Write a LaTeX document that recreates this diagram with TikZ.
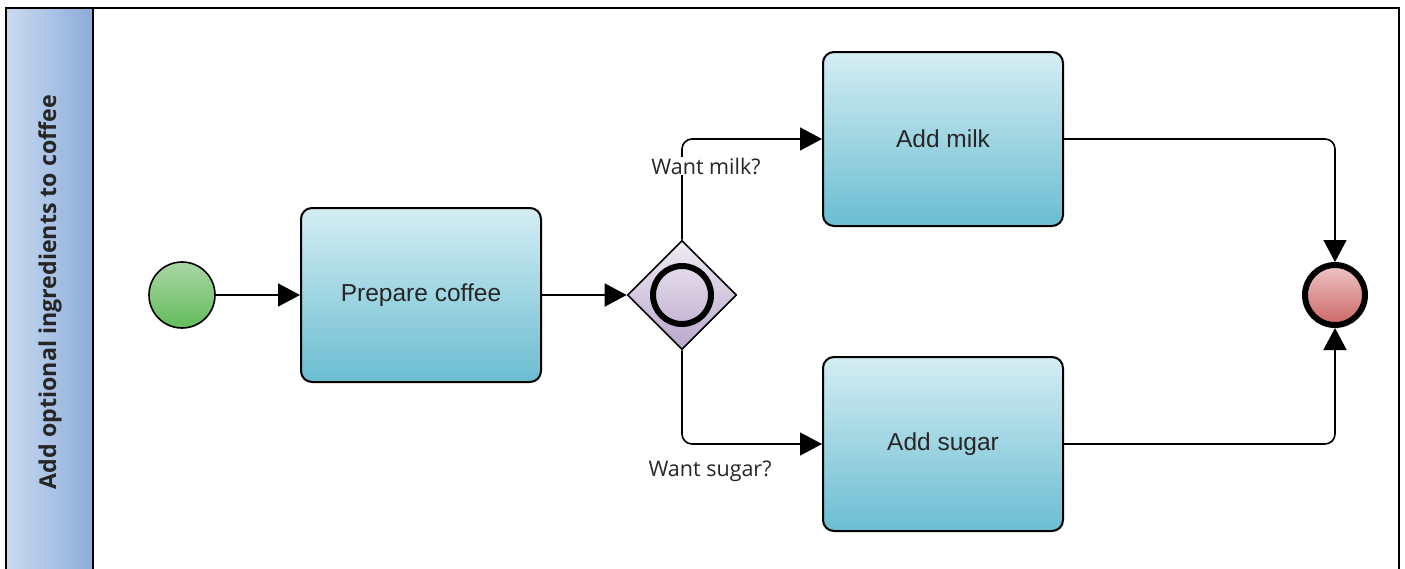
\documentclass[tikz,border=0pt]{standalone}
\usepackage{fontspec}
\setmainfont{Liberation Sans}
\newfontfamily\labelfont{Open Sans}
\usetikzlibrary{arrows.meta,shapes.geometric}

\definecolor{laneL}{HTML}{CADAF0}
\definecolor{laneR}{HTML}{8CACDA}
\definecolor{taskT}{HTML}{D4EDF3}
\definecolor{taskB}{HTML}{6ABDD1}
\definecolor{startT}{HTML}{AAD6A4}
\definecolor{startB}{HTML}{62BC5A}
\definecolor{gwT}{HTML}{F0ECF4}
\definecolor{gwB}{HTML}{B9A6CB}
\definecolor{endT}{HTML}{EEC6C6}
\definecolor{endB}{HTML}{CC6664}
\definecolor{ink}{HTML}{262626}

\tikzset{
  task/.style={draw=black, line width=2pt, rounded corners=11pt,
    top color=taskT, bottom color=taskB, minimum width=240pt,
    minimum height=174pt, inner sep=0pt, outer sep=1pt,
    font=\fontsize{24.5}{29}\selectfont, text=ink},
  startev/.style={circle, draw=black, line width=1.6pt, minimum size=66pt,
    inner sep=0pt, outer sep=0.8pt, top color=startT, bottom color=startB},
  endev/.style={circle, draw=black, line width=6pt, minimum size=60pt,
    inner sep=0pt, outer sep=3pt, top color=endT, bottom color=endB},
  gateway/.style={diamond, draw=black, line width=1.6pt, minimum width=109pt,
    minimum height=109pt, inner sep=0pt, outer sep=0.8pt,
    top color=gwT, bottom color=gwB},
  gwmark/.style={circle, draw=black, line width=6pt, minimum size=58pt,
    inner sep=0pt},
  flow/.style={line width=1.6pt, -{Triangle[length=22pt,width=23pt]},
    rounded corners=10pt},
  cond/.style={font=\labelfont\fontsize{21.5}{25}\selectfont, text=ink,
    inner sep=1pt},
}

\begin{document}
\begin{tikzpicture}[x=1pt, y=-1pt]
  \useasboundingbox (0,0) rectangle (1405,568);
  \clip (0,0) rectangle (1405,568);

  % pool frame and lane header
  \shade[left color=laneL, right color=laneR] (6,8) rectangle (93,600);
  \draw[line width=2pt] (6,8) rectangle (1399,600);
  \draw[line width=2pt] (93,8) -- (93,600);
  \node[rotate=90, font=\labelfont\bfseries\fontsize{23.2}{28}\selectfont,
    text=ink] (lane) at (50,292) {Add optional ingredients to coffee};

  % flow nodes
  \node[startev] (start) at (182,295) {};
  \node[task] (prep) at (421,295) {Prepare coffee};
  \node[gateway] (gw) at (682,295) {};
  \node[gwmark] (gwm) at (682,295) {};
  \node[task] (milk) at (943,139) {Add milk};
  \node[task] (sugar) at (943,444) {Add sugar};
  \node[endev] (end) at (1335,295) {};

  % sequence flows
  \draw[flow] (start) -- (prep);
  \draw[flow] (prep) -- (gw);
  \draw[flow] (gw.north) |- (milk.west);
  \draw[flow] (gw.south) |- (sugar.west);
  \draw[flow] (milk.east) -| (end.north);
  \draw[flow] (sugar.east) -| (end.south);

  % conditions
  \node[cond, fill=white] (cmilk) at (706,166) {Want milk?};
  \node[cond] (csugar) at (710,471) {Want sugar?};
\end{tikzpicture}
\end{document}
